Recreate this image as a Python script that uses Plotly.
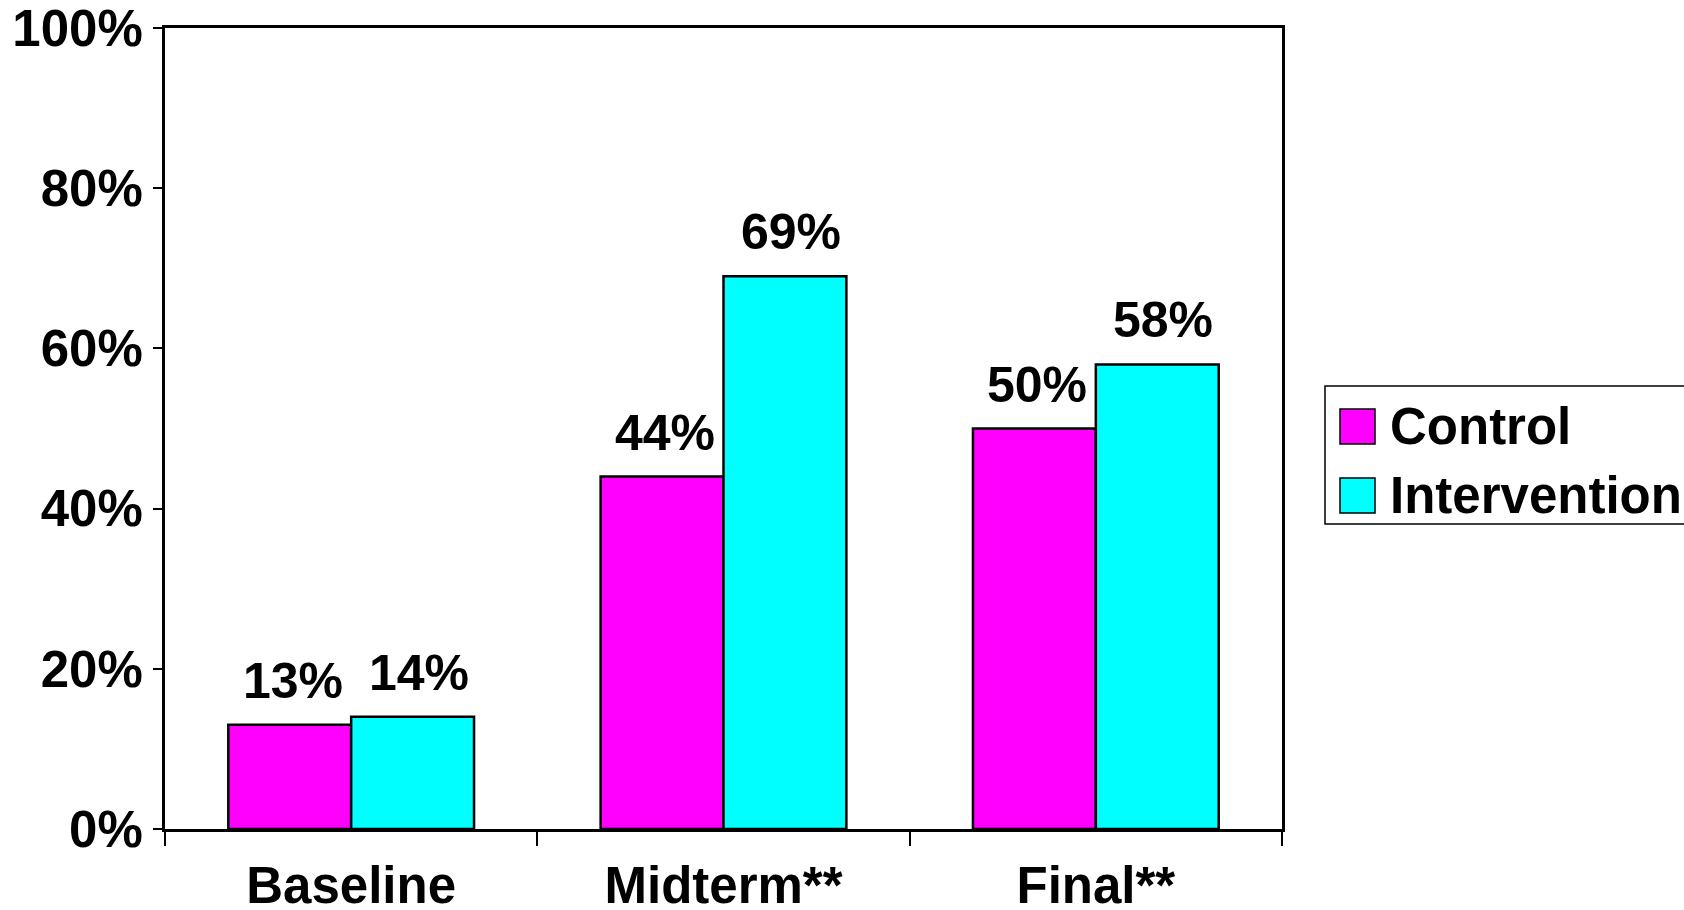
import plotly.graph_objects as go

categories = ["Baseline", "Midterm**", "Final**"]
control = [13, 44, 50]
intervention = [14, 69, 58]
series_names = ["Control", "Intervention"]
series_colors = ["#FF00FF", "#00FFFF"]
y_ticks = [0, 20, 40, 60, 80, 100]

FONT = "Arial, 'Liberation Sans', sans-serif"
W, H = 1684, 910
ML, MR, MT, MB = 165, 402, 28, 81
BARGAP = 0.34
plot_w = W - ML - MR
plot_h = H - MT - MB


def px_x(p):
    return (p - ML) / plot_w


def px_y(p):
    return (H - MB - p) / plot_h


fig = go.Figure()
for name, vals, col in zip(series_names, [control, intervention], series_colors):
    fig.add_trace(go.Bar(
        x=categories, y=vals, name=name, showlegend=False,
        marker=dict(color=col, line=dict(color="black", width=2.5)),
    ))

cat_w = plot_w / len(categories)
bar_w = cat_w * (1 - BARGAP) / 2
for i, vals in enumerate([control, intervention]):
    shift = (i - 0.5) * bar_w
    for c, v in zip(categories, vals):
        fig.add_annotation(
            x=c, y=v, text=f"<b>{v}%</b>", showarrow=False,
            xanchor="center", yanchor="bottom", xshift=shift + 3 + 3 * i, yshift=14,
            font=dict(family=FONT, size=50, color="black"),
        )

# legend drawn as layout shapes + text
shapes = [dict(type="rect", xref="paper", yref="paper",
               x0=px_x(1325), x1=px_x(1700), y0=px_y(524), y1=px_y(386),
               line=dict(color="black", width=1.5), fillcolor="white", layer="above")]
row_tops = [409, 478]
for name, col, top in zip(series_names, series_colors, row_tops):
    shapes.append(dict(type="rect", xref="paper", yref="paper",
                       x0=px_x(1340), x1=px_x(1375), y0=px_y(top + 35), y1=px_y(top),
                       line=dict(color="black", width=1.5), fillcolor=col, layer="above"))
    fig.add_annotation(
        xref="paper", yref="paper", x=px_x(1388), y=px_y(top + 17.5),
        xanchor="left", yanchor="middle", showarrow=False,
        text=f"<b>{name}</b>", font=dict(family=FONT, size=51, color="black"),
    )

fig.update_layout(
    width=W, height=H,
    margin=dict(l=ML, r=MR, t=MT, b=MB, pad=0, autoexpand=False),
    paper_bgcolor="white", plot_bgcolor="white",
    barmode="group", bargap=BARGAP, bargroupgap=0,
    font=dict(family=FONT, size=51, color="black"),
    showlegend=False,
    shapes=shapes,
    xaxis=dict(
        type="category", showgrid=False, showline=True, linecolor="black",
        linewidth=3, mirror=True, ticks="outside", tickson="boundaries",
        ticklen=14, tickwidth=2, tickcolor="black", automargin=False,
        ticklabelstandoff=10,
        tickfont=dict(family=FONT, size=51, color="black", weight="bold"),
    ),
    yaxis=dict(
        range=[0, 100], tickvals=y_ticks, ticktext=[f"{t}%" for t in y_ticks],
        showgrid=False, zeroline=False, showline=True, linecolor="black",
        linewidth=3, mirror=True, ticks="outside", ticklen=9, tickwidth=2,
        tickcolor="black", automargin=False, ticklabeloverflow="allow",
        tickfont=dict(family=FONT, size=51, color="black", weight="bold"),
    ),
)

fig.write_html("out.html")
